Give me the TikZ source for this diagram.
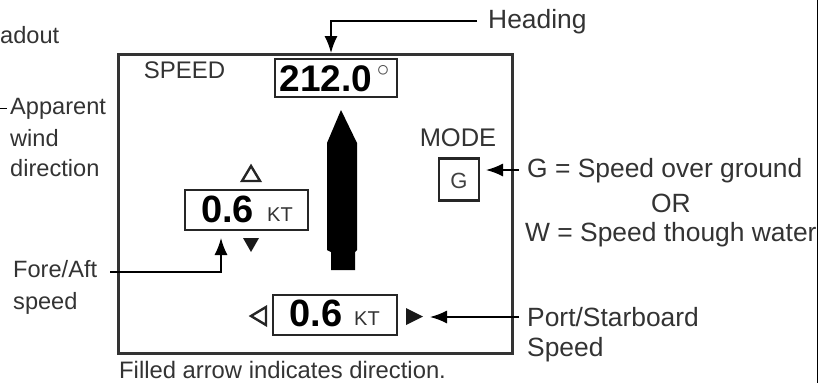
\documentclass[tikz,border=0pt]{standalone}
\usepackage{fontspec}
\setmainfont{Liberation Sans}
\usetikzlibrary{arrows.meta}

\begin{document}
\begin{tikzpicture}[x=1pt,y=-1pt,>={Latex[length=17pt,width=13pt]}]
            \tikzstyle{readbox}=[rectangle,draw=black!85,line width=2.6pt,inner sep=0pt]
            \tikzstyle{label}=[inner sep=0pt,anchor=west,align=left,text=black!80,font=\fontsize{23.6}{24}\selectfont]
            \tikzstyle{widelabel}=[label,font=\fontsize{26.4}{26}\selectfont]
            \tikzstyle{value}=[inner sep=0pt,text=black,font=\fontsize{38}{38}\selectfont\bfseries]
            \tikzstyle{unit}=[inner sep=0pt,text=black!80,font=\fontsize{20}{20}\selectfont]
            \tikzstyle{leader}=[line width=1.5pt,black,->]
            \useasboundingbox (0,0) rectangle (829,383);
            \draw[line width=3pt,draw=black!80] (118,54) rectangle (512,353);
            \draw[line width=1.4pt] (817.5,0) -- (817.5,383);
            \begin{scope}
            \node[readbox,minimum width=122pt,minimum height=38pt](headingbox) at (336,78){};
            \node[value,font=\fontsize{37}{37}\selectfont\bfseries](headingval) at (326,79){212.0};
            \node[inner sep=0pt,text=black!70,font=\fontsize{32}{32}\selectfont](degree) at (383,71){$\circ$};
            \node[readbox,minimum width=123pt,minimum height=40pt](foreaftbox) at (246.5,210){};
            \node[value](foreaftval) at (227.5,209){0.6};
            \node[unit](foreaftunit) at (280,215){KT};
            \node[readbox,minimum width=124pt,minimum height=40pt](portbox) at (335,315){};
            \node[value](portval) at (316,313){0.6};
            \node[unit](portunit) at (367,319){KT};
            \node[readbox,minimum width=40pt,minimum height=42pt](modebox) at (459,179.5){};
            \node[inner sep=0pt,text=black!75,font=\fontsize{22}{22}\selectfont](modeval) at (459,181){G};
            \end{scope}
            \node[label,anchor=center,font=\fontsize{24}{24}\selectfont](speedtitle) at (184.5,70){SPEED};
            \node[label,anchor=center,font=\fontsize{25.5}{25}\selectfont](modetitle) at (458,138){MODE};
            % ship and direction arrows
            \fill[black] (341,110) -- (357,143) -- (357,250) -- (355,252) -- (355,270) -- (331,270) -- (331,252) -- (327,250) -- (327,143) -- cycle;
            \draw[line width=2.4pt,black!85,line join=miter] (251,166) -- (260,181) -- (242,181) -- cycle;
            \fill[black!90] (243,238) -- (259,238) -- (251,252) -- cycle;
            \draw[line width=2.4pt,black!85,line join=miter] (251,316) -- (266,307) -- (266,325) -- cycle;
            \fill[black!90] (406,308) -- (423,316.5) -- (406,325) -- cycle;
            % outside labels
            \node[label](readout) at (0,35){adout};
            \node[label](apparent) at (10,109){Apparent};
            \node[label](wind) at (10,138){wind};
            \node[label](direction) at (10,168){direction};
            \node[label](foreaft) at (13,269){Fore/Aft};
            \node[label](foreaftb) at (13,303){speed};
            \node[widelabel](heading) at (488,22){Heading};
            \node[widelabel](ground) at (527,171){G = Speed over ground};
            \node[widelabel,anchor=center](ortext) at (671,203){OR};
            \begin{scope}
            \clip (500,210) rectangle (817,260);
            \node[widelabel](water) at (525,235){W = Speed though water};
            \end{scope}
            \node[widelabel](port) at (527,317){Port/Starboard};
            \node[widelabel](portb) at (527,350){Speed};
            \node[label,font=\fontsize{23.8}{24}\selectfont](note) at (119,370){Filled arrow indicates direction.};
            % leaders
            \coordinate (windend) at (0,108.5);
            \coordinate (windstart) at (7,108.5);
            \coordinate (headingtip) at (331,53);
            \coordinate (foreafttip) at (221,238);
            \coordinate (modetip) at (486,170);
            \coordinate (porttip) at (430,317);
            \draw[line width=1.5pt] (windend) -- (windstart);
            \draw[leader] (heading.west)++(-11,-1) -| (headingtip);
            \draw[leader] (foreaft.east)++(13,3) -| (foreafttip);
            \draw[leader] (ground.west)++(-8,-1) -- (modetip);
            \draw[leader] (port.west)++(-8,0) -- (porttip);
        \end{tikzpicture}
\end{document}
